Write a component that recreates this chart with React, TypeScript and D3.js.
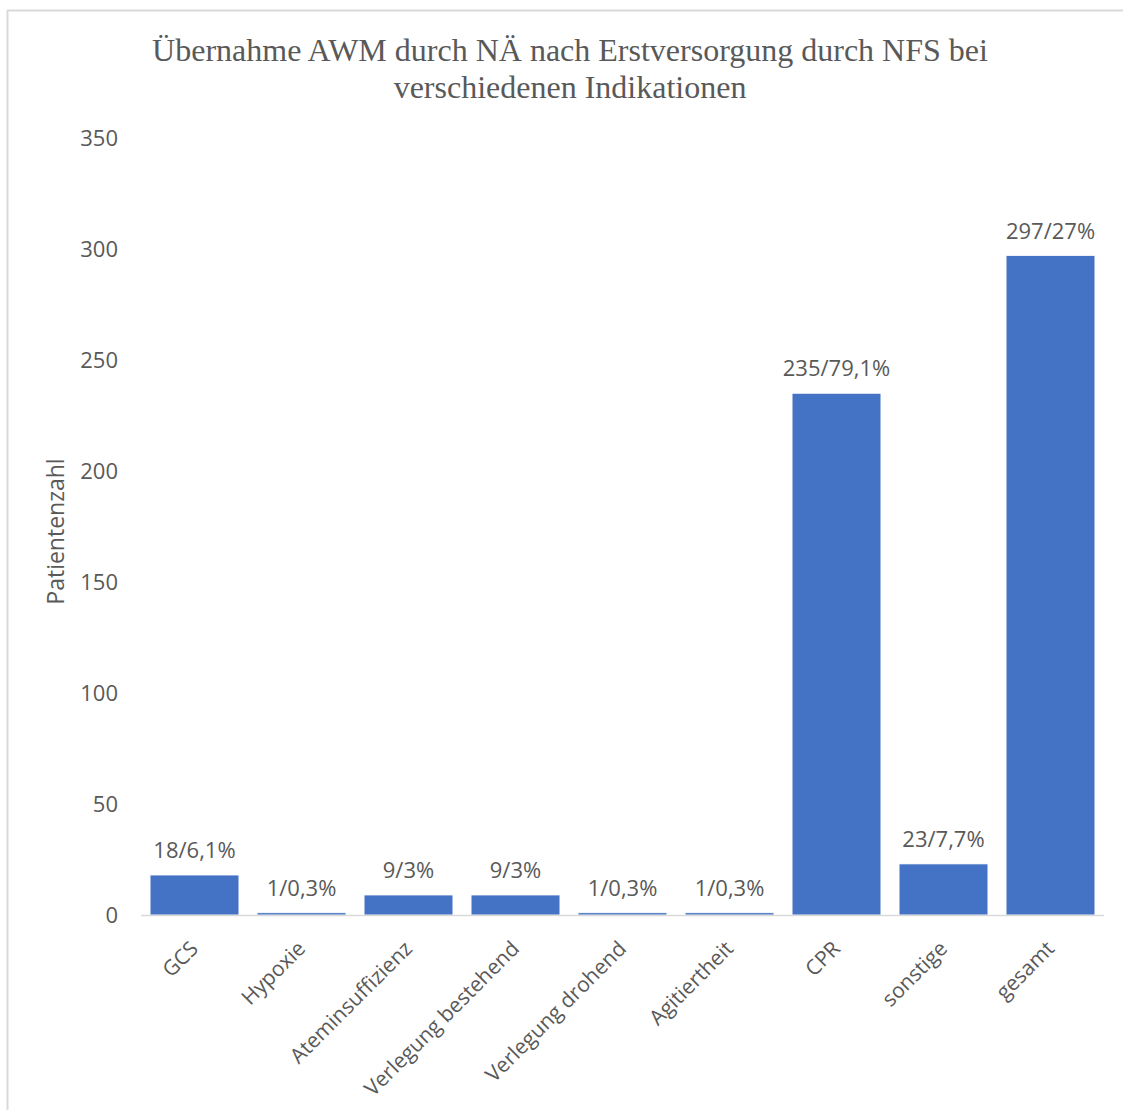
import React from "react";
import * as d3 from "d3";

const categories = ["GCS", "Hypoxie", "Ateminsuffizienz", "Verlegung bestehend", "Verlegung drohend", "Agitiertheit", "CPR", "sonstige", "gesamt"];
const values = [18, 1, 9, 9, 1, 1, 235, 23, 297];
const dataLabels = ["18/6,1%", "1/0,3%", "9/3%", "9/3%", "1/0,3%", "1/0,3%", "235/79,1%", "23/7,7%", "297/27%"];
const yTicks = [0, 50, 100, 150, 200, 250, 300, 350];
const titleLines = ["Übernahme AWM durch NÄ nach Erstversorgung durch NFS bei", "verschiedenen Indikationen"];
const yAxisTitle = "Patientenzahl";

const W = 1123;
const H = 1110;
const left = 141;
const right = 1104;
const top = 138;
const bottom = 915;
const sans = "'Open Sans', 'DejaVu Sans', sans-serif";
const textColor = "#595959";

export default function App() {
  const x = d3.scaleBand<string>().domain(categories).range([left, right]).paddingInner(0.17).paddingOuter(0.085);
  const y = d3.scaleLinear().domain([0, 350]).range([bottom, top]);

  return (
    <svg width={W} height={H} style={{ position: "absolute", left: 0, top: 0, background: "#fff" }}>
      <line x1={7.5} y1={10.5} x2={W} y2={10.5} stroke="#d9d9d9" strokeWidth={2} />
      <line x1={7.5} y1={10} x2={7.5} y2={H} stroke="#d9d9d9" strokeWidth={2} />
      <text x={570} textAnchor="middle" fontFamily="'Liberation Serif', 'Times New Roman', serif" fontSize={32} fill={textColor}>
        {titleLines.map((l, i) => (
          <tspan key={i} x={570} y={61 + i * 37}>{l}</tspan>
        ))}
      </text>
      {yTicks.map((t) => (
        <text key={t} x={118} y={y(t)} dy="0.36em" textAnchor="end" fontFamily={sans} fontSize={22} fill={textColor}>
          {t}
        </text>
      ))}
      <text transform={`translate(64,${(top + bottom) / 2 + 5}) rotate(-90)`} textAnchor="middle" fontFamily={sans} fontSize={23} fill={textColor}>
        {yAxisTitle}
      </text>
      {categories.map((c, i) => (
        <g key={c}>
          <rect x={x(c)!} y={y(values[i])} width={x.bandwidth()} height={bottom - y(values[i])} fill="#4472C4" stroke="#ffffff" strokeWidth={0.7} />
          <text x={x(c)! + x.bandwidth() / 2} y={y(values[i]) - 17} textAnchor="middle" fontFamily={sans} fontSize={22} fill={textColor}>
            {dataLabels[i]}
          </text>
          <text transform={`translate(${x(c)! + x.bandwidth() / 2 + 5},${bottom + 35}) rotate(-45)`} textAnchor="end" fontFamily={sans} fontSize={21} fill={textColor}>
            {c}
          </text>
        </g>
      ))}
      <line x1={left} x2={right} y1={bottom + 0.5} y2={bottom + 0.5} stroke="#d9d9d9" strokeWidth={1.5} />
    </svg>
  );
}
